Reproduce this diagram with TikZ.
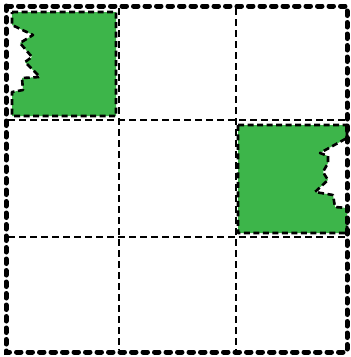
\documentclass[tikz,border=0pt]{standalone}
\definecolor{leaf}{RGB}{61,181,74}
\begin{document}
\begin{tikzpicture}[x=1pt,y=-1pt,
  gridline/.style={line width=2.7pt,dash pattern=on 7pt off 4pt},
  outer/.style={line width=5pt,dash pattern=on 4.5pt off 7pt,line cap=round},
  patch/.style={fill=leaf,draw=black,line width=2.6pt,dash pattern=on 6pt off 3.5pt,line join=round}]
\useasboundingbox (0,0) rectangle (351,357);
% green patches
\path[patch] (12,12) -- (116,12) -- (116,116) -- (12,116) -- (12,92)
  -- (23,90) -- (22,78) -- (40,77) -- (25,62) -- (32,57) -- (20,43) -- (33,35) -- (12,25) -- cycle;
\path[patch] (238,125) -- (347,125) -- (347,138) -- (320,153) -- (328,156) -- (328,163)
  -- (323,172) -- (328,180) -- (315,192) -- (333,195) -- (335,207) -- (347,208) -- (347,233) -- (238,233) -- cycle;
% grid
\coordinate (v1t) at (119,8); \coordinate (v1b) at (119,350);
\coordinate (v2t) at (236,8); \coordinate (v2b) at (236,350);
\coordinate (h1l) at (8,120); \coordinate (h1r) at (346,120);
\coordinate (h2l) at (8,237); \coordinate (h2r) at (346,237);
\draw[gridline] (v1t) -- (v1b);
\draw[gridline] (v2t) -- (v2b);
\draw[gridline] (h1l) -- (h1r);
\draw[gridline] (h2l) -- (h2r);
\draw[outer] (6,6) rectangle (347,352);
\end{tikzpicture}
\end{document}
